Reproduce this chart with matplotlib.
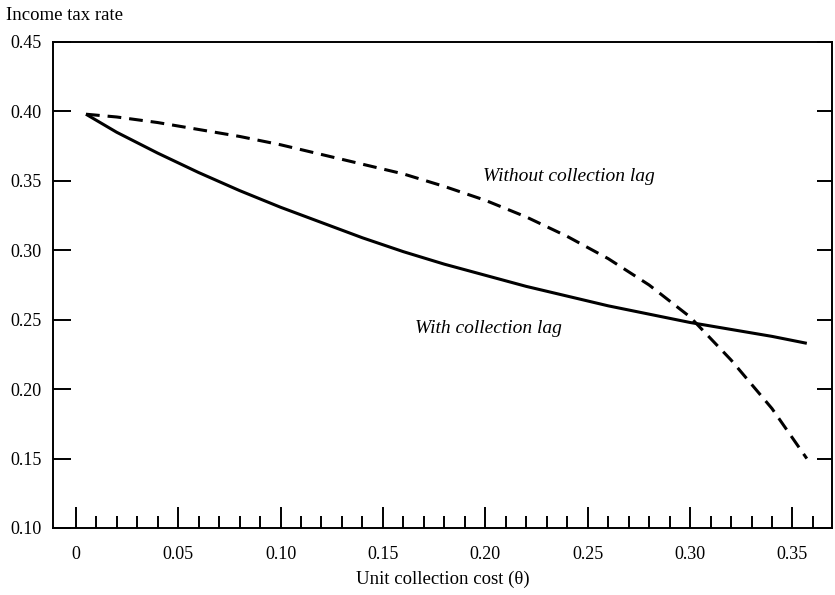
import matplotlib
matplotlib.use("Agg")
import matplotlib.pyplot as plt

plt.rcParams['font.family'] = ['Liberation Serif', 'DejaVu Serif']

# values
theta = [0.005, 0.02, 0.04, 0.06, 0.08, 0.10, 0.12, 0.14, 0.16, 0.18,
         0.20, 0.22, 0.24, 0.26, 0.28, 0.30, 0.32, 0.34, 0.357]
rate_with = [0.398, 0.385, 0.370, 0.356, 0.343, 0.331, 0.320, 0.309, 0.299, 0.290,
             0.282, 0.274, 0.267, 0.260, 0.254, 0.248, 0.243, 0.238, 0.233]
rate_without = [0.398, 0.396, 0.392, 0.387, 0.382, 0.376, 0.369, 0.362, 0.355, 0.346,
                0.336, 0.324, 0.310, 0.294, 0.275, 0.252, 0.221, 0.186, 0.150]

xticks = [0, 0.05, 0.10, 0.15, 0.20, 0.25, 0.30, 0.35]
xticklabels = ['0', '0.05', '0.10', '0.15', '0.20', '0.25', '0.30', '0.35']
xminor = [i / 100 for i in range(1, 37)]
yticks = [0.10, 0.15, 0.20, 0.25, 0.30, 0.35, 0.40, 0.45]
yticklabels = ['0.10', '0.15', '0.20', '0.25', '0.30', '0.35', '0.40', '0.45']

fig = plt.figure(figsize=(8.35, 5.95), dpi=100)
ax = fig.add_axes([53 / 835, 1 - 528 / 595, 779 / 835, 486 / 595])

ax.plot(theta, rate_with, color='black', lw=2.2, solid_capstyle='butt')
ax.plot(theta, rate_without, color='black', lw=2.2, dashes=(4.5, 2.6))

ax.set_xlim(-0.0111, 0.3693)
ax.set_ylim(0.10, 0.45)

ax.set_xticks(xticks)
ax.set_xticklabels(xticklabels)
ax.set_xticks(xminor, minor=True)
ax.set_yticks(yticks)
ax.set_yticklabels(yticklabels)

ax.tick_params(axis='x', which='major', direction='in', length=15, width=1.4,
               top=False, labelsize=13, pad=13)
ax.tick_params(axis='x', which='minor', direction='in', length=8.5, width=1.4,
               top=False)
ax.tick_params(axis='y', which='major', direction='in', length=13, width=1.4,
               right=True, labelsize=13, pad=8)
for t in ax.yaxis.get_major_ticks():
    t.tick2line.set_markersize(11)

for s in ax.spines.values():
    s.set_linewidth(1.4)

ax.text(0.2409, 0.3528, 'Without collection lag', style='italic', fontsize=14,
        ha='center', va='center')
ax.text(0.2016, 0.244, 'With collection lag', style='italic', fontsize=14,
        ha='center', va='center')

fig.text(6 / 835, 1 - 16 / 595, 'Income tax rate', fontsize=13.5, ha='left', va='center')
fig.text((53 + 779 / 2) / 835, 1 - 579 / 595, 'Unit collection cost (\u03b8)',
         fontsize=13.5, ha='center', va='center')

fig.savefig('out.png', dpi=100)
